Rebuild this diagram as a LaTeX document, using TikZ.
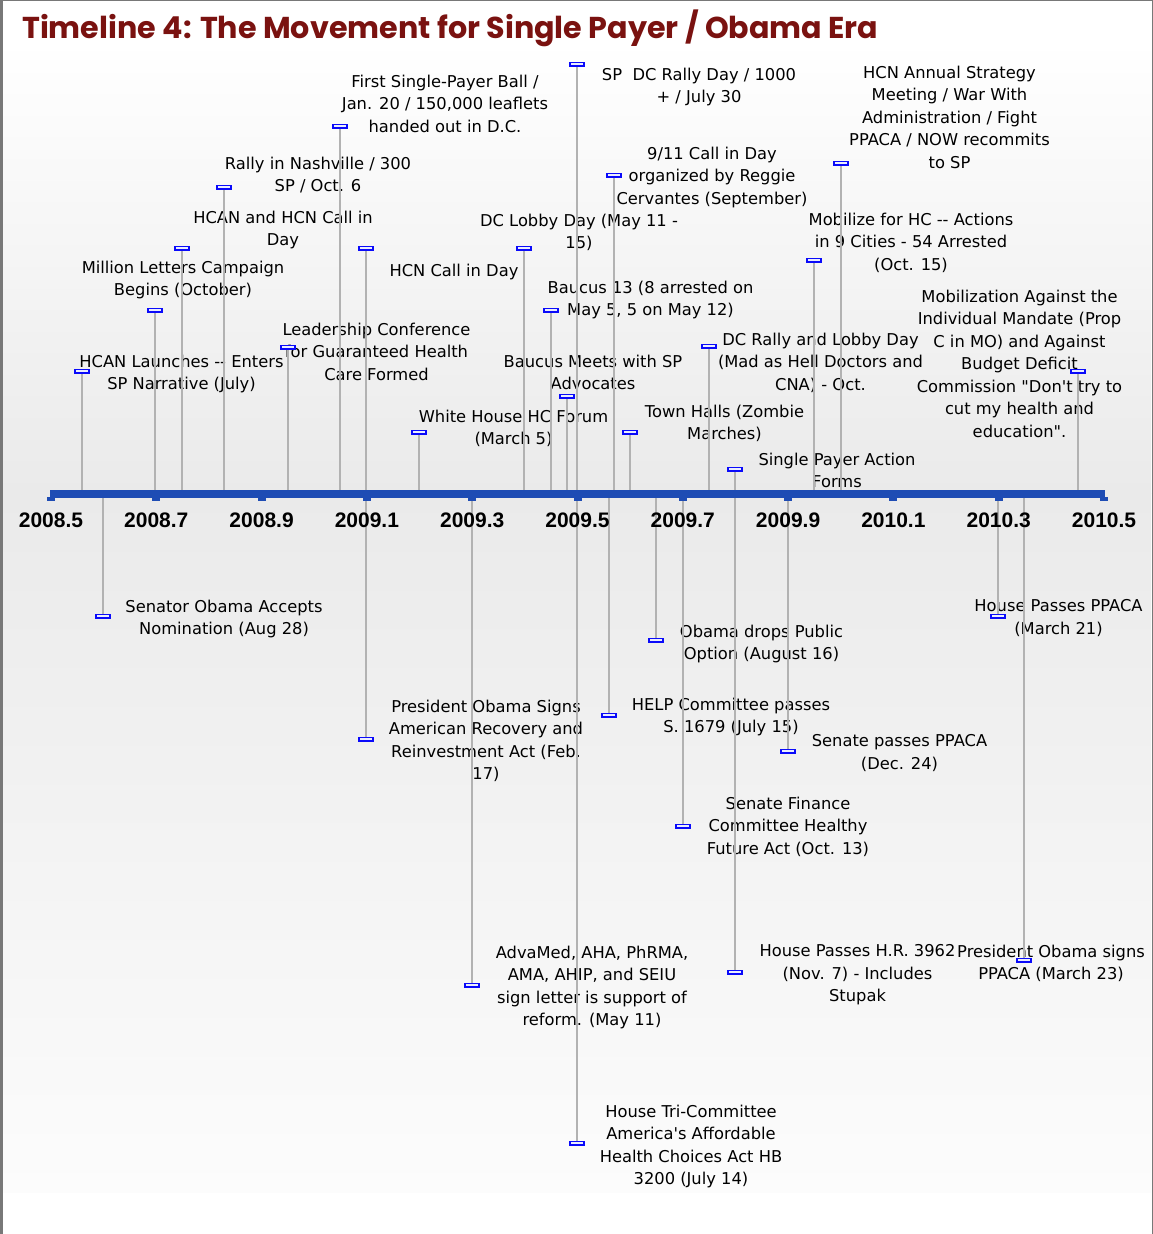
\documentclass[tikz,border=0pt]{standalone}
\usepackage{fontspec}
\newfontfamily\lblfont{DejaVu Sans}
\newfontfamily\tickfont{Liberation Sans}
\newfontfamily\titlefont{Poppins}
\definecolor{titlered}{RGB}{122,18,16}
\definecolor{axblue}{RGB}{30,76,180}
\definecolor{stemgray}{RGB}{178,178,178}
\definecolor{mkblue}{RGB}{10,10,250}
\definecolor{mkfill}{RGB}{235,238,255}
\definecolor{bggray}{RGB}{234,234,234}
\definecolor{bglow}{RGB}{252,252,252}
\definecolor{framegray}{RGB}{120,120,120}
\begin{document}
\begin{tikzpicture}[x=1pt,y=-1pt,
  lbl/.style={font=\lblfont\fontsize{16.3}{22.5}\selectfont, align=center, inner sep=0pt, anchor=north, text=black},
  stem/.style={draw=stemgray, line width=2.8pt},
  mk/.style={rectangle, draw=mkblue, fill=mkfill, line width=1.6pt, minimum width=13.5pt, minimum height=3.4pt, inner sep=0pt},
  ticklbl/.style={font=\tickfont\bfseries\fontsize{21}{24}\selectfont, anchor=base, inner sep=0pt},
  axisline/.style={draw=axblue, line width=8pt},
  notch/.style={fill=axblue},
]
\useasboundingbox (0,0) rectangle (1153,1234);
% background
\fill[white] (0,0) rectangle (1153,1234);
\shade[top color=white, bottom color=bggray] (2,40) rectangle (1151,493);
\shade[top color=bggray, bottom color=bglow] (2,493) rectangle (1151,1192);
\draw[framegray, line width=2.6pt] (1.3,0) -- (1.3,1234);
\draw[framegray, line width=1.2pt] (0,0.6) -- (1153,0.6);
\draw[framegray, line width=1.2pt] (1152.2,0) -- (1152.2,1234);
% title
\node[anchor=base west, inner sep=0pt, text=titlered] (title) at (22,38)
  {\resizebox{856pt}{!}{\titlefont\bfseries Timeline 4: The Movement for Single Payer / Obama Era}};
% labels
\node[lbl] (t1) at (181.5,354.5) {HCAN Launches -- Enters\\SP Narrative (July)};
\node[lbl] (t2) at (224,599.5) {Senator Obama Accepts\\Nomination (Aug 28)};
\node[lbl] (t3) at (183,260.5) {Million Letters Campaign\\Begins (October)};
\node[lbl] (t4) at (283,210.5) {HCAN and HCN Call in\\Day};
\node[lbl] (t5) at (318,156.5) {Rally in Nashville / 300\\SP / Oct. 6};
\node[lbl] (t6) at (376.5,322.5) {Leadership Conference\\for Guaranteed Health\\Care Formed};
\node[lbl] (t7) at (445,74.5) {First Single-Payer Ball /\\Jan. 20 / 150,000 leaflets\\handed out in D.C.};
\node[lbl] (t8) at (454,263.5) {HCN Call in Day};
\node[lbl] (t9) at (486,699.5) {President Obama Signs\\American Recovery and\\Reinvestment Act (Feb.\\17)};
\node[lbl] (t10) at (513.5,409.5) {White House HC Forum\\(March 5)};
\node[lbl] (t11) at (592,945.5) {AdvaMed, AHA, PhRMA,\\AMA, AHIP, and SEIU\\sign letter is support of\\reform. (May 11)};
\node[lbl] (t12) at (579,213.5) {DC Lobby Day (May 11 -\\15)};
\node[lbl] (t13) at (650.5,280.5) {Baucus 13 (8 arrested on\\May 5, 5 on May 12)};
\node[lbl] (t14) at (593,354.5) {Baucus Meets with SP\\Advocates};
\node[lbl] (t15) at (699,67.5) {SP~~DC Rally Day / 1000\\+ / July 30};
\node[lbl] (t16) at (691,1104.5) {House Tri-Committee\\America's Affordable\\Health Choices Act HB\\3200 (July 14)};
\node[lbl] (t17) at (731,697.5) {HELP Committee passes\\S. 1679 (July 15)};
\node[lbl] (t18) at (712,146.5) {9/11 Call in Day\\organized by Reggie\\Cervantes (September)};
\node[lbl] (t19) at (724.5,404.5) {Town Halls (Zombie\\Marches)};
\node[lbl] (t20) at (761.5,624.5) {Obama drops Public\\Option (August 16)};
\node[lbl] (t21) at (788,796.5) {Senate Finance\\Committee Healthy\\Future Act (Oct. 13)};
\node[lbl] (t22) at (820.5,332.5) {DC Rally and Lobby Day\\(Mad as Hell Doctors and\\CNA) - Oct.};
\node[lbl] (t23) at (837,452.5) {Single Payer Action\\Forms};
\node[lbl] (t24) at (857.5,944.5) {House Passes H.R. 3962\\(Nov. 7) - Includes\\Stupak};
\node[lbl] (t25) at (899.5,734.5) {Senate passes PPACA\\(Dec. 24)};
\node[lbl] (t26) at (911,212.5) {Mobilize for HC -- Actions\\in 9 Cities - 54 Arrested\\(Oct. 15)};
\node[lbl] (t27) at (949.5,65.5) {HCN Annual Strategy\\Meeting / War With\\Administration / Fight\\PPACA / NOW recommits\\to SP};
\node[lbl] (t28) at (1058.5,599.5) {House Passes PPACA\\(March 21)};
\node[lbl] (t29) at (1051,944.5) {President Obama signs\\PPACA (March 23)};
\node[lbl] (t30) at (1019.5,289.5) {Mobilization Against the\\Individual Mandate (Prop\\C in MO) and Against\\Budget Deficit\\Commission "Don't try to\\cut my health and\\education".};
% axis coordinates
\coordinate (axL) at (50,493.5);
\coordinate (axR) at (1105,493.5);
% event points
\foreach \n/\x/\y in {a1/82/371, a2/155/310, a3/182/248, a4/224/187, a5/288/347, a6/340/126, a7/366/248, a8/419/432, a9/524/248, a10/551/310, a11/567/396, a12/577/64, a13/614/175, a14/630/432, a15/709/346, a16/735/469, a17/814/260, a18/841/163, a19/1078/371, b1/103/616, b2/366/739, b3/472/985, b4/577/1143, b5/609/715, b6/656/640, b7/683/826, b8/735/972, b9/788/751, b10/998/616, b11/1024/960}
  {\coordinate (\n) at (\x,\y);}
% stems
\foreach \n in {a1,a2,a3,a4,a5,a6,a7,a8,a9,a10,a11,a12,a13,a14,a15,a16,a17,a18,a19,b1,b2,b3,b4,b5,b6,b7,b8,b9,b10,b11}
  {\draw[stem] (\n) -- (\n |- axL);}
% axis
\draw[axisline] (axL) -- (axR);
\foreach \i/\x/\t in {1/51/2008.5, 2/156.3/2008.7, 3/261.6/2008.9, 4/366.9/2009.1, 5/472.2/2009.3, 6/577.5/2009.5, 7/682.8/2009.7, 8/788.1/2009.9, 9/893.4/2010.1, 10/998.7/2010.3, 11/1104/2010.5}
  {\fill[notch] (\x-4,497) rectangle (\x+4,500.5);
   \node[ticklbl] (k\i) at (\x,527) {\t};}
% markers
\foreach \n in {a1,a2,a3,a4,a5,a6,a7,a8,a9,a10,a11,a12,a13,a14,a15,a16,a17,a18,a19,b1,b2,b3,b4,b5,b6,b7,b8,b9,b10,b11}
  {\node[mk] (m\n) at (\n) {};}
\end{tikzpicture}
\end{document}
